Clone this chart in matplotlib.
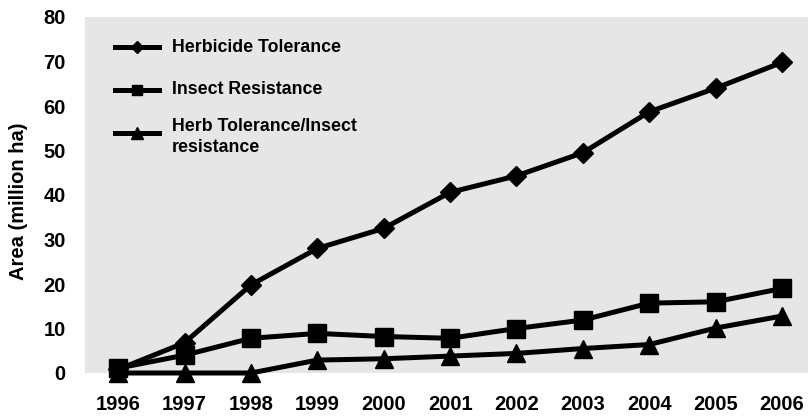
import matplotlib.pyplot as plt
from matplotlib.lines import Line2D

plt.rcParams['font.family'] = ['Liberation Sans', 'DejaVu Sans']
plt.rcParams['font.weight'] = 'bold'

years = list(range(1996, 2007))
herbicide = [0.8, 6.8, 19.8, 28.0, 32.5, 40.6, 44.3, 49.5, 58.7, 64.0, 69.8]
insect = [1.1, 4.0, 7.8, 8.9, 8.2, 7.8, 10.0, 11.9, 15.7, 16.0, 19.0]
stacked = [0.0, 0.0, 0.0, 2.9, 3.2, 3.8, 4.4, 5.5, 6.4, 10.1, 12.8]
labels = ['Herbicide Tolerance', 'Insect Resistance', 'Herb Tolerance/Insect\nresistance']

fig = plt.figure(figsize=(8.08, 4.18), dpi=100)
ax = fig.add_axes([85 / 808, 45 / 418, 723 / 808, 356 / 418])
ax.set_facecolor('#e6e6e6')

lw = 3.6
ax.plot(years, herbicide, color='black', lw=lw, marker='D', ms=10.5, clip_on=False, zorder=3)
ax.plot(years, insect, color='black', lw=lw, marker='s', ms=13, clip_on=False, zorder=3)
ax.plot(years, stacked, color='black', lw=lw, marker='^', ms=13, clip_on=False, zorder=3)

ax.set_xlim(1995.5, 1996 + (808 - 118) / 66.4)
ax.set_ylim(0, 80)
ax.set_xticks(years)
ax.set_yticks(range(0, 81, 10))
ax.tick_params(length=0, labelsize=14.5)
ax.tick_params(axis='y', pad=14)
ax.tick_params(axis='x', pad=16)
for s in ax.spines.values():
    s.set_visible(False)

ax.set_ylabel('Area (million ha)', fontsize=14.5, fontweight='bold')
ax.yaxis.set_label_coords(-57 / 723, 0.483)


# hand-placed legend (the 2-line entry sits closer than the others)
def ax_xy(px, py):
    return (px - 85) / 723, (373 - py) / 356


markers = [('D', 6), ('s', 7), ('^', 8)]
handle_y = [47, 90, 133]
text_y = [47, 90, 137]
for (m, ms), hy, ty, lab in zip(markers, handle_y, text_y, labels):
    x0, y0 = ax_xy(115, hy)
    x1, _ = ax_xy(159, hy)
    ax.add_line(Line2D([x0, (x0 + x1) / 2, x1], [y0, y0, y0], transform=ax.transAxes,
                       color='black', lw=lw, marker=m, ms=ms, markevery=[1]))
    tx, ty_ax = ax_xy(172, ty)
    ax.text(tx, ty_ax, lab, transform=ax.transAxes, fontsize=12.8, fontweight='bold',
            va='center', ha='left', linespacing=1.3)

fig.savefig('out.png', dpi=100)
